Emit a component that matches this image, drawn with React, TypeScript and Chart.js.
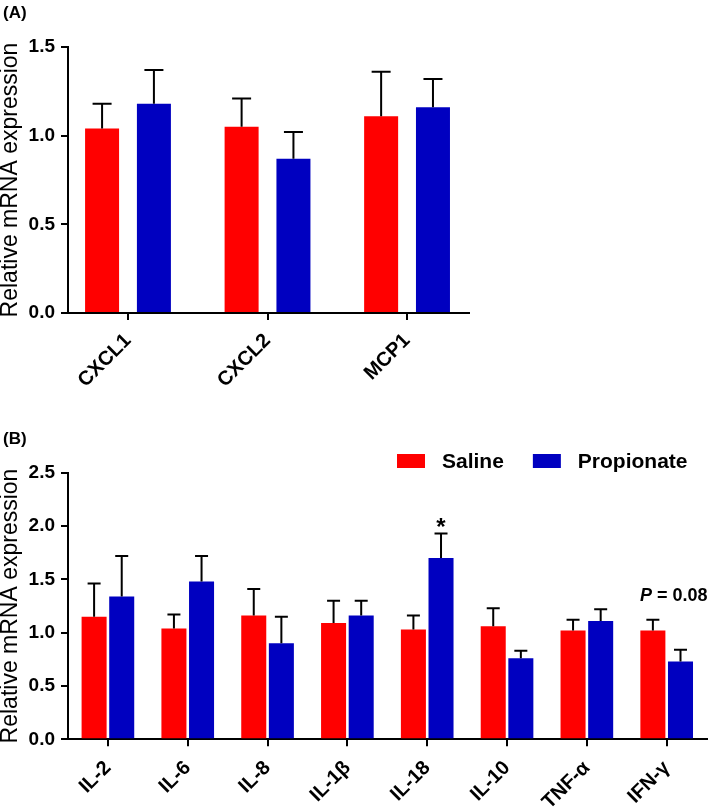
import React, { useEffect, useRef } from 'react';
import { Chart, registerables } from 'chart.js';

Chart.register(...registerables);

// ---------- Data ----------
const seriesNames = ['Saline', 'Propionate'];
const seriesColors = ['#FF0000', '#0000C0'];

const categoriesA = ['CXCL1', 'CXCL2', 'MCP1'];
const salineA = [1.04, 1.05, 1.11];
const salineErrA = [0.14, 0.16, 0.25];
const propionateA = [1.18, 0.87, 1.16];
const propionateErrA = [0.19, 0.15, 0.16];
const yTicksA = [0, 0.5, 1.0, 1.5];

const categoriesB = ['IL-2', 'IL-6', 'IL-8', 'IL-1β', 'IL-18', 'IL-10', 'TNF-α', 'IFN-γ'];
const salineB = [1.15, 1.04, 1.16, 1.09, 1.03, 1.06, 1.02, 1.02];
const salineErrB = [0.31, 0.13, 0.25, 0.21, 0.13, 0.17, 0.10, 0.10];
const propionateB = [1.34, 1.48, 0.90, 1.16, 1.70, 0.76, 1.11, 0.73];
const propionateErrB = [0.38, 0.24, 0.25, 0.14, 0.23, 0.07, 0.11, 0.11];
const yTicksB = [0, 0.5, 1.0, 1.5, 2.0, 2.5];

const yTitle = 'Relative mRNA expression';
const FONT = "'Liberation Sans', Arial, Helvetica, sans-serif";

// ---------- Plugins ----------
const errorBarPlugin = {
  id: 'errorBars',
  afterDatasetsDraw(chart: any, _args: any, opts: any) {
    const ctx = chart.ctx;
    const yScale = chart.scales.y;
    const cap = (opts && opts.cap) || 14;
    ctx.save();
    ctx.strokeStyle = '#000';
    ctx.lineWidth = 2;
    chart.data.datasets.forEach((ds: any, i: number) => {
      const meta = chart.getDatasetMeta(i);
      if (!ds.errors) return;
      meta.data.forEach((bar: any, j: number) => {
        const top = yScale.getPixelForValue(ds.values[j] + ds.errors[j]);
        ctx.beginPath();
        ctx.moveTo(bar.x, bar.y);
        ctx.lineTo(bar.x, top);
        ctx.moveTo(bar.x - cap / 2, top);
        ctx.lineTo(bar.x + cap / 2, top);
        ctx.stroke();
      });
    });
    ctx.restore();
  },
};

const panelLabelPlugin = {
  id: 'panelLabel',
  afterDraw(chart: any, _args: any, opts: any) {
    if (!opts || !opts.text) return;
    const ctx = chart.ctx;
    ctx.save();
    ctx.fillStyle = '#000';
    ctx.font = `bold 17px ${FONT}`;
    ctx.textAlign = 'left';
    ctx.textBaseline = 'alphabetic';
    ctx.fillText(opts.text, opts.x, opts.y);
    ctx.restore();
  },
};

const legendPlugin = {
  id: 'customLegend',
  afterDraw(chart: any, _args: any, opts: any) {
    if (!opts || !opts.show) return;
    const ctx = chart.ctx;
    ctx.save();
    ctx.font = `bold 21px ${FONT}`;
    ctx.textBaseline = 'middle';
    ctx.textAlign = 'left';
    let x = opts.x;
    const yc = opts.y;
    chart.data.datasets.forEach((ds: any) => {
      ctx.fillStyle = ds.backgroundColor;
      ctx.fillRect(x, yc - 7, 28, 14);
      x += 28 + 17;
      ctx.fillStyle = '#000';
      ctx.fillText(ds.label, x, yc + 1);
      x += ctx.measureText(ds.label).width + 29;
    });
    ctx.restore();
  },
};

const marksPlugin = {
  id: 'marks',
  afterDatasetsDraw(chart: any, _args: any, opts: any) {
    if (!opts || !opts.items) return;
    const ctx = chart.ctx;
    const yScale = chart.scales.y;
    ctx.save();
    ctx.fillStyle = '#000';
    opts.items.forEach((item: any) => {
      const ds = chart.data.datasets[item.dataset];
      const bar = chart.getDatasetMeta(item.dataset).data[item.index];
      const top = yScale.getPixelForValue(ds.values[item.index] + ds.errors[item.index]);
      if (item.kind === 'star') {
        ctx.font = `bold 24px ${FONT}`;
        ctx.textAlign = 'center';
        ctx.textBaseline = 'alphabetic';
        ctx.fillText('*', bar.x, top + 2);
      } else if (item.kind === 'p') {
        const cx = chart.scales.x.getPixelForValue(item.index) + 7;
        const y = top - 19;
        ctx.textBaseline = 'alphabetic';
        ctx.textAlign = 'left';
        ctx.font = `italic bold 18px ${FONT}`;
        const wP = ctx.measureText('P').width;
        ctx.font = `bold 18px ${FONT}`;
        const rest = ' = 0.08';
        const wR = ctx.measureText(rest).width;
        const x0 = cx - (wP + wR) / 2;
        ctx.font = `italic bold 18px ${FONT}`;
        ctx.fillText('P', x0, y);
        ctx.font = `bold 18px ${FONT}`;
        ctx.fillText(rest, x0 + wP, y);
      }
    });
    ctx.restore();
  },
};

// ---------- Shared axis styles ----------
const tickGrid = {
  display: true,
  drawOnChartArea: false,
  drawTicks: true,
  tickLength: 7,
  tickWidth: 2,
  tickColor: '#000',
  color: '#000',
  lineWidth: 2,
  offset: false,
};
const axisBorder = { display: true, color: '#000', width: 2 };

function yAxis(max: number, ticksList: number[]) {
  return {
    min: 0,
    max,
    afterBuildTicks: (s: any) => {
      s.ticks = ticksList.map((v) => ({ value: v }));
    },
    afterFit: (s: any) => {
      s.width = 68;
    },
    ticks: {
      font: { family: FONT, size: 19, weight: 'bold' },
      color: '#000',
      padding: 6,
      callback: (v: any) => Number(v).toFixed(1),
    },
    grid: tickGrid,
    border: axisBorder,
    title: {
      display: true,
      text: yTitle,
      color: '#000',
      font: { family: FONT, size: 23, weight: 'normal', lineHeight: 1 },
      padding: { top: -1, bottom: 0 },
    },
  };
}

const xTickFont = { family: FONT, size: 20, weight: 'bold' };

export default function App() {
  const refA = useRef<HTMLCanvasElement | null>(null);
  const refB = useRef<HTMLCanvasElement | null>(null);

  useEffect(() => {
    const chartA = new Chart(refA.current as HTMLCanvasElement, {
      type: 'bar',
      data: {
        datasets: [
          {
            label: seriesNames[0],
            data: categoriesA.map((_, i) => ({ x: i, y: salineA[i] })),
            backgroundColor: seriesColors[0],
            errors: salineErrA,
            values: salineA,
          } as any,
          {
            label: seriesNames[1],
            data: categoriesA.map((_, i) => ({ x: i, y: propionateA[i] })),
            backgroundColor: seriesColors[1],
            errors: propionateErrA,
            values: propionateA,
          } as any,
        ],
      },
      options: {
        animation: false,
        responsive: false,
        devicePixelRatio: 1,
        datasets: { bar: { categoryPercentage: 0.743, barPercentage: 0.656, borderWidth: 0 } },
        layout: { padding: { top: 47, right: 240, bottom: 0, left: 0 } },
        scales: {
          x: {
            type: 'linear',
            min: -0.43,
            max: 2.444,
            offset: false,
            afterBuildTicks: (s: any) => {
              s.ticks = categoriesA.map((_, i) => ({ value: i }));
            },
            afterFit: (s: any) => {
              s.height = 87;
            },
            ticks: {
              autoSkip: false,
              minRotation: 45,
              maxRotation: 45,
              padding: 9,
              color: '#000',
              font: xTickFont,
              callback: (v: any) => categoriesA[Math.round(Number(v))],
            },
            grid: tickGrid,
            border: axisBorder,
          } as any,
          y: yAxis(1.5, yTicksA) as any,
        },
        plugins: {
          legend: { display: false },
          tooltip: { enabled: false },
          errorBars: { cap: 19 },
          panelLabel: { text: '(A)', x: 3, y: 18 },
        } as any,
      },
      plugins: [errorBarPlugin, panelLabelPlugin],
    });

    const chartB = new Chart(refB.current as HTMLCanvasElement, {
      type: 'bar',
      data: {
        labels: categoriesB,
        datasets: [
          {
            label: seriesNames[0],
            data: salineB,
            backgroundColor: seriesColors[0],
            errors: salineErrB,
            values: salineB,
          } as any,
          {
            label: seriesNames[1],
            data: propionateB,
            backgroundColor: seriesColors[1],
            errors: propionateErrB,
            values: propionateB,
          } as any,
        ],
      },
      options: {
        animation: false,
        responsive: false,
        devicePixelRatio: 1,
        datasets: { bar: { categoryPercentage: 0.692, barPercentage: 0.906, borderWidth: 0 } },
        layout: { padding: { top: 72.7, right: 2.4, bottom: 0, left: 0 } },
        scales: {
          x: {
            type: 'category',
            offset: true,
            afterFit: (s: any) => {
              s.height = 68.7;
            },
            ticks: {
              autoSkip: false,
              minRotation: 45,
              maxRotation: 45,
              padding: 10,
              color: '#000',
              font: xTickFont,
            },
            grid: tickGrid,
            border: axisBorder,
          } as any,
          y: yAxis(2.5, yTicksB) as any,
        },
        plugins: {
          legend: { display: false },
          tooltip: { enabled: false },
          errorBars: { cap: 13 },
          panelLabel: { text: '(B)', x: 3, y: 44 },
          customLegend: { show: true, x: 397, y: 61 },
          marks: {
            items: [
              { kind: 'star', dataset: 1, index: 4 },
              { kind: 'p', dataset: 0, index: 7 },
            ],
          },
        } as any,
      },
      plugins: [errorBarPlugin, panelLabelPlugin, legendPlugin, marksPlugin],
    });

    return () => {
      chartA.destroy();
      chartB.destroy();
    };
  }, []);

  return (
    <div style={{ position: 'absolute', left: 0, top: 0, width: 709, height: 808, background: '#fff' }}>
      <canvas
        ref={refA}
        width={709}
        height={400}
        style={{ position: 'absolute', left: 0, top: 0, width: 709, height: 400 }}
      />
      <canvas
        ref={refB}
        width={709}
        height={408}
        style={{ position: 'absolute', left: 0, top: 400, width: 709, height: 408 }}
      />
    </div>
  );
}
